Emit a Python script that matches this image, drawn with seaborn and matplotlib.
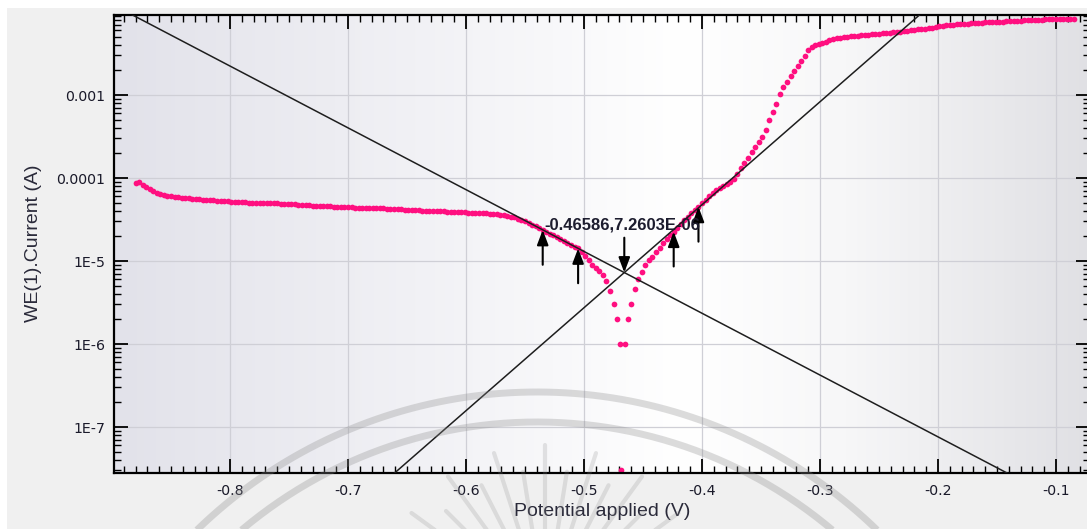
import numpy as np
import pandas as pd
import matplotlib
matplotlib.use("Agg")
import matplotlib.pyplot as plt
from matplotlib.colors import LinearSegmentedColormap
from matplotlib.lines import Line2D
from matplotlib.patches import Rectangle
from matplotlib.ticker import FixedLocator, MultipleLocator, LogLocator, NullFormatter
import seaborn as sns

# ---- polarisation scan: applied potential (mV) and measured |current| (uA) ----
potential_mV = [
    -880, -877, -874, -871, -868, -865, -862, -859, -856, -853,
    -850, -847, -844, -841, -838, -835, -832, -829, -826, -823,
    -820, -817, -814, -811, -808, -805, -802, -799, -796, -793,
    -790, -787, -784, -781, -778, -775, -772, -769, -766, -763,
    -760, -757, -754, -751, -748, -745, -742, -739, -736, -733,
    -730, -727, -724, -721, -718, -715, -712, -709, -706, -703,
    -700, -697, -694, -691, -688, -685, -682, -679, -676, -673,
    -670, -667, -664, -661, -658, -655, -652, -649, -646, -643,
    -640, -637, -634, -631, -628, -625, -622, -619, -616, -613,
    -610, -607, -604, -601, -598, -595, -592, -589, -586, -583,
    -580, -577, -574, -571, -568, -565, -562, -559, -556, -553,
    -550, -547, -544, -541, -538, -535, -532, -529, -526, -523,
    -520, -517, -514, -511, -508, -505, -502, -499, -496, -493,
    -490, -487, -484, -481, -478, -475, -472,
    -469.5, -468.5, -465.5,
    -463, -460, -457, -454, -451, -448, -445, -442, -439,
    -436, -433, -430, -427, -424, -421, -418, -415, -412, -409,
    -406, -403, -400, -397, -394, -391, -388, -385, -382, -379,
    -376, -373, -370, -367, -364, -361, -358, -355, -352, -349,
    -346, -343, -340, -337, -334, -331, -328, -325, -322, -319,
    -316, -313, -310, -307, -304, -301, -298, -295, -292, -289,
    -286, -283, -280, -277, -274, -271, -268, -265, -262, -259,
    -256, -253, -250, -247, -244, -241, -238, -235, -232, -229,
    -226, -223, -220, -217, -214, -211, -208, -205, -202, -199,
    -196, -193, -190, -187, -184, -181, -178, -175, -172, -169,
    -166, -163, -160, -157, -154, -151, -148, -145, -142, -139,
    -136, -133, -130, -127, -124, -121, -118, -115, -112, -109,
    -106, -103, -100, -97, -94, -91, -88, -85,
]
current_uA = [
    88, 90, 83, 77, 73, 69, 66, 64, 62.5, 61,
    60, 59, 58.5, 58, 57.5, 57, 56.5, 56, 55.5, 55,
    55, 54.5, 54, 53.5, 53, 53, 52.5, 52, 51.5, 51,
    51, 51, 50.5, 50.5, 50.5, 50, 50, 50, 50, 49.5,
    49.5, 49, 49, 48.5, 48, 48, 47.5, 47.5, 47, 47,
    46.5, 46, 46, 46, 45.5, 45.5, 45, 45, 45, 44.5,
    44.5, 44.5, 44, 44, 44, 43.5, 43.5, 43.5, 43, 43,
    43, 42.5, 42.5, 42, 42, 42, 41.5, 41.5, 41, 41,
    41, 40.5, 40.5, 40, 40, 39.5, 39.5, 39.5, 39, 39,
    39, 38.5, 38.5, 38.5, 38, 38, 38, 38, 37.5, 37.5,
    37, 37, 36.5, 36, 35.5, 34.5, 34, 33.5, 32.5, 31.5,
    30, 29, 27.5, 26.5, 25, 23.7, 22.3, 21.3, 20.3, 19.4,
    18.3, 17.5, 16.7, 15.8, 14.9, 14.2, 13.0, 11.6, 10.3, 9.0,
    8.2, 7.6, 6.8, 5.7, 4.3, 3.0, 2.0,
    1.0, 0.03, 1.0,
    2.0, 3.0, 4.6, 6.0, 7.3, 8.9, 10.3, 11.3, 12.9,
    14.5, 16.5, 18.3, 20.3, 22.6, 25.0, 27.8, 30.8, 34.0, 37.5,
    41.0, 45.0, 50, 55, 60, 66, 71, 75, 80, 85,
    90, 97, 113, 133, 150, 175, 205, 235, 270, 310,
    380, 500, 630, 780, 1040, 1250, 1450, 1680, 1950, 2250,
    2550, 2950, 3450, 3750, 3950, 4100, 4250, 4400, 4650, 4750,
    4850, 4900, 4950, 5000, 5100, 5150, 5200, 5250, 5300, 5350,
    5400, 5450, 5500, 5600, 5600, 5650, 5700, 5750, 5800, 5900,
    5950, 6000, 6100, 6200, 6250, 6300, 6400, 6500, 6600, 6700,
    6800, 6900, 7000, 7050, 7100, 7150, 7200, 7250, 7300, 7350,
    7400, 7450, 7500, 7500, 7550, 7600, 7600, 7650, 7700, 7750,
    7800, 7850, 7900, 7950, 8000, 8000, 8050, 8100, 8100, 8150,
    8200, 8200, 8200, 8250, 8250, 8250, 8300, 8300,
]

# Tafel fit result
E_corr = -0.46586          # V
I_corr = 7.2603e-6         # A
beta_a = 0.0806            # V/decade, anodic
beta_c = 0.1343            # V/decade, cathodic
fit_bounds_mV = [-535, -505, -424, -403]

x_ticks = [-0.8, -0.7, -0.6, -0.5, -0.4, -0.3, -0.2, -0.1]
x_tick_labels = ["-0.8", "-0.7", "-0.6", "-0.5", "-0.4", "-0.3", "-0.2", "-0.1"]
y_ticks = [1e-3, 1e-4, 1e-5, 1e-6, 1e-7]
y_tick_labels = ["0.001", "0.0001", "1E-5", "1E-6", "1E-7"]

df = pd.DataFrame({
    "E": np.array(potential_mV, dtype=float) / 1000.0,
    "I": np.array(current_uA, dtype=float) * 1e-6,
})

sns.set_style("ticks")
plt.rcParams["font.family"] = ["Liberation Sans", "DejaVu Sans"]

W, H = 1087, 529
fig = plt.figure(figsize=(W / 100, H / 100), dpi=100)
fig.patch.set_facecolor("#f0f0f0")
fig.add_artist(Rectangle((0, 1 - 8 / H), 1, 8 / H, transform=fig.transFigure,
                         facecolor="white", edgecolor="none", zorder=-5))
fig.add_artist(Rectangle((0, 0), 7 / W, 1, transform=fig.transFigure,
                         facecolor="white", edgecolor="none", zorder=-5))

# plot frame in pixels
L, R, T, B = 113.5, 1090, 15, 472.5
rect = [L / W, 1 - B / H, (R - L) / W, (B - T) / H]

# horizontal grey-white-grey shading behind the plot
bg = fig.add_axes(rect, zorder=-1)
shade = LinearSegmentedColormap.from_list(
    "shade", [(0.0, "#e2e2ea"), (0.45, "#f8f8fa"), (0.58, "#ffffff"),
              (0.75, "#f7f7f8"), (1.0, "#e0e0e4")])
bg.imshow(np.linspace(0, 1, 512)[None, :], cmap=shade, aspect="auto",
          extent=[0, 1, 0, 1])
bg.set_axis_off()

ax = fig.add_axes(rect, zorder=0)
ax.set_facecolor("none")

sns.scatterplot(data=df, x="E", y="I", ax=ax, color="#ff0f80", s=17,
                linewidth=0, legend=False, zorder=2)
ax.set_yscale("log")

xlim = (-0.89873, -0.0712)
ylim = (10 ** -7.548, 10 ** -2.036)
ax.set_xlim(*xlim)
ax.set_ylim(*ylim)

# Tafel lines through the corrosion point
E_line = np.array(xlim)
ax.plot(E_line, I_corr * 10 ** ((E_line - E_corr) / beta_a), color="#1e1e1e",
        lw=1.1, zorder=3)
ax.plot(E_line, I_corr * 10 ** (-(E_line - E_corr) / beta_c), color="#1e1e1e",
        lw=1.1, zorder=3)

# arrows marking the fitted ranges and the corrosion point
arrow_kw = dict(arrowstyle="-|>,head_length=0.9,head_width=0.34", color="black",
                lw=1.5, shrinkA=0, shrinkB=0)
for m in fit_bounds_mV:
    i_tip = df["I"].iloc[potential_mV.index(m)]
    e_tip = m / 1000.0
    ax.annotate("", xy=(e_tip, i_tip), xytext=(e_tip, i_tip * 10 ** -0.42),
                arrowprops=arrow_kw, zorder=5)
ax.annotate("", xy=(E_corr, I_corr), xytext=(E_corr, I_corr * 10 ** 0.42),
            arrowprops=arrow_kw, zorder=5)
ax.text(-0.5333, 2.72e-5, f"{E_corr:.5f},{I_corr:.4E}", fontsize=12,
        fontweight="bold", color="#1c1c2e", ha="left", va="center", zorder=6)

# axes styling
ax.xaxis.set_major_locator(FixedLocator(x_ticks))
ax.set_xticklabels(x_tick_labels)
ax.xaxis.set_minor_locator(MultipleLocator(0.01))
ax.yaxis.set_major_locator(FixedLocator(y_ticks))
ax.set_yticklabels(y_tick_labels)
ax.yaxis.set_minor_locator(LogLocator(base=10, subs=np.arange(2, 10)))
ax.yaxis.set_minor_formatter(NullFormatter())

ax.tick_params(which="both", direction="in", top=True, right=True, colors="black",
               labelcolor="#1a1a2a")
ax.tick_params(which="major", length=10, width=1.3)
ax.tick_params(which="minor", length=5, width=1.0)
ax.tick_params(axis="x", which="major", pad=8)
ax.tick_params(axis="y", which="major", pad=6)
for lbl in ax.get_xticklabels() + ax.get_yticklabels():
    lbl.set_fontfamily("DejaVu Sans")
    lbl.set_fontsize(10.2)

ax.grid(True, which="major", color="#cfcfd6", lw=0.9, zorder=1)
for sp in ax.spines.values():
    sp.set_color("black")
    sp.set_linewidth(1.6)

ax.set_xlabel("Potential applied (V)", fontsize=14, color="#2a2a3a")
ax.set_ylabel("WE(1).Current (A)", fontsize=14, color="#2a2a3a")
ax.xaxis.set_label_coords(0.5, (B - 512) / (B - T))
ax.xaxis.label.set_va("center")
ax.yaxis.set_label_coords((34 - L) / (R - L), 0.5)
ax.yaxis.label.set_va("center")

# faint seal watermark over the lower part of the figure
def to_fig(x, y):
    return np.asarray(x) / W, 1 - np.asarray(y) / H

seal_cx, seal_cy = 537, 880
for r in (488, 458):
    t = np.linspace(np.pi / 2 - 1.25, np.pi / 2 + 1.25, 400)
    fx, fy = to_fig(seal_cx + r * np.cos(t), seal_cy - r * np.sin(t))
    fig.add_artist(Line2D(fx, fy, transform=fig.transFigure, color="#8c8c8c",
                          alpha=0.3, lw=5, solid_capstyle="butt", zorder=10))

sun_cx, sun_cy = 545, 610
for k, ang in enumerate(np.deg2rad(np.arange(36, 146, 9))):
    r_out = 165 if k % 2 == 0 else 140
    xs = sun_cx + np.array([60, r_out]) * np.cos(ang)
    ys = sun_cy - np.array([60, r_out]) * np.sin(ang)
    fx, fy = to_fig(xs, ys)
    fig.add_artist(Line2D(fx, fy, transform=fig.transFigure, color="#8c8c8c",
                          alpha=0.22, lw=3.0, solid_capstyle="round", zorder=10))

fig.savefig("out.png", dpi=100, facecolor=fig.get_facecolor())
